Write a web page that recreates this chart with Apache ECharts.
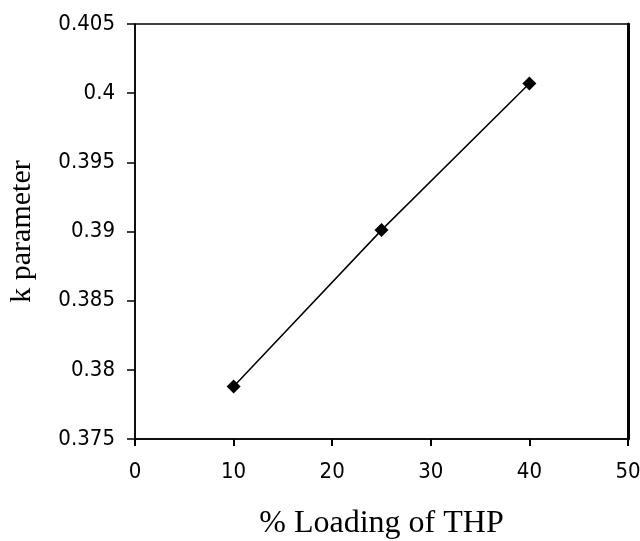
<!DOCTYPE html>
<html lang="en">

<head>
    <meta charset="UTF-8">
    <script src="https://cdn.jsdelivr.net/npm/echarts@6/dist/echarts.min.js"></script>
    <title>k parameter</title>
    <style>
        * {
            margin: 0;
            padding: 0;
        }

        body {
            background: #fff;
        }

        #main {
            width: 640px;
            height: 541px;
        }
    </style>
</head>

<body>
    <div id="main"></div>
    <script>
        // % loading of THP and fitted k values
        var loading = [10, 25, 40];
        var kValues = [0.3788, 0.3901, 0.4007];

        var chart = echarts.init(document.getElementById('main'));

        var tickFont = {
            color: '#000',
            fontFamily: 'DejaVu Sans Condensed',
            fontSize: 22
        };

        var option = {
            animation: false,
            grid: {
                left: 135,
                right: 12,
                top: 24,
                bottom: 102,
                outerBoundsMode: 'none',
                containLabel: false,
                show: true,
                borderColor: '#000',
                borderWidth: 1.5
            },
            xAxis: {
                type: 'value',
                min: 0,
                max: 50,
                interval: 10,
                name: '% Loading of THP',
                nameLocation: 'middle',
                nameGap: 69,
                nameTextStyle: {
                    color: '#000',
                    fontFamily: 'Liberation Serif',
                    fontSize: 32
                },
                axisLine: { lineStyle: { color: '#000', width: 1.5 } },
                axisTick: { length: 7, lineStyle: { color: '#000', width: 2 } },
                axisLabel: Object.assign({ margin: 22 }, tickFont),
                splitLine: { show: false }
            },
            yAxis: [
                {
                    type: 'value',
                    min: 0.375,
                    max: 0.405,
                    interval: 0.005,
                    name: 'k parameter',
                    nameLocation: 'middle',
                    nameGap: 98,
                    nameTextStyle: {
                        color: '#000',
                        fontFamily: 'Liberation Serif',
                        fontSize: 30
                    },
                    axisLine: { lineStyle: { color: '#000', width: 1.5 } },
                    axisTick: { length: 8, lineStyle: { color: '#000', width: 1.5 } },
                    axisLabel: Object.assign({
                        margin: 20,
                        formatter: function (v) {
                            return String(+v.toFixed(3));
                        }
                    }, tickFont),
                    splitLine: { show: false }
                },
                {
                    type: 'value',
                    min: 0.375,
                    max: 0.405,
                    position: 'right',
                    axisLine: { show: true, lineStyle: { color: '#000', width: 3 } },
                    axisTick: { show: false },
                    axisLabel: { show: false },
                    splitLine: { show: false }
                }
            ],
            series: [
                {
                    type: 'line',
                    data: loading.map(function (x, i) { return [x, kValues[i]]; }),
                    symbol: 'diamond',
                    symbolSize: 14,
                    lineStyle: { color: '#000', width: 1.5 },
                    itemStyle: { color: '#000' }
                }
            ]
        };

        chart.setOption(option);
    </script>
</body>

</html>
